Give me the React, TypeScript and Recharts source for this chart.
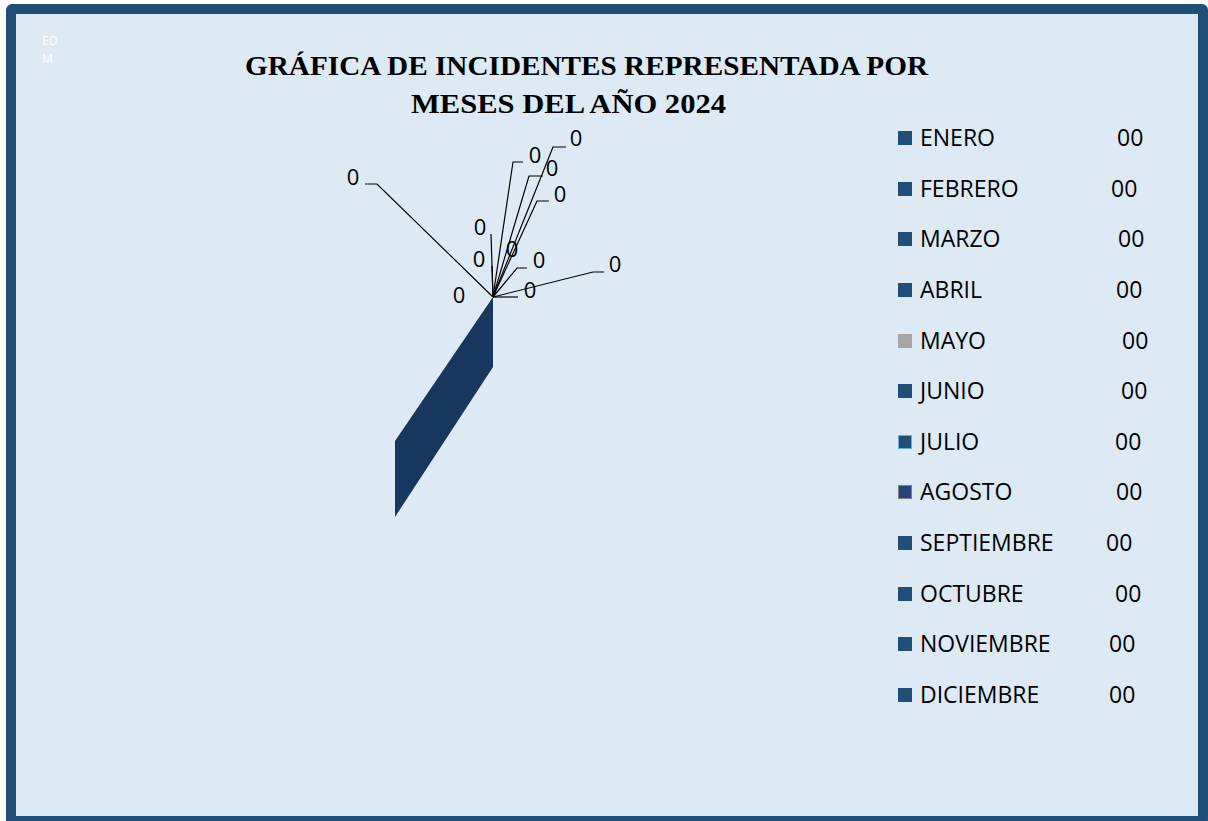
import { PieChart, Pie, Cell, Legend, Customized } from "recharts";

// months and incident counts (all zero in the source sheet)
const MONTHS = [
  "ENERO",
  "FEBRERO",
  "MARZO",
  "ABRIL",
  "MAYO",
  "JUNIO",
  "JULIO",
  "AGOSTO",
  "SEPTIEMBRE",
  "OCTUBRE",
  "NOVIEMBRE",
  "DICIEMBRE",
];
const INCIDENTS = [0, 0, 0, 0, 0, 0, 0, 0, 0, 0, 0, 0];

const TITLE_LINES = ["GRÁFICA DE INCIDENTES REPRESENTADA POR", "MESES DEL AÑO 2024"];

const SLICE_COLORS = [
  "#1F4E79",
  "#1F4E79",
  "#1F4E79",
  "#1F4E79",
  "#A5A5A5",
  "#1F4E79",
  "#1F4E79",
  "#264478",
  "#1F4E79",
  "#1F4E79",
  "#1F4E79",
  "#1F4E79",
];
const MARKER_BORDERS = [
  null,
  null,
  null,
  null,
  null,
  null,
  "#6FA8DC",
  "#808080",
  null,
  null,
  null,
  null,
];

const CX = 493;
const CY = 297;

// where Excel left each data label + its leader line (offsets from pie centre)
const LEADERS: { pts: [number, number][]; label: [number, number] }[] = [
  { pts: [[-116, -113], [-128, -113]], label: [-140, -121] },
  { pts: [[20, -135], [30, -135]], label: [42, -143] },
  { pts: [[60, -150], [73, -150]], label: [83, -160] },
  { pts: [[36, -121], [50, -121]], label: [59, -130] },
  { pts: [[44, -96], [56, -96]], label: [67, -104] },
  { pts: [[-2, -63]], label: [-13, -71] },
  { pts: [[-1, -31]], label: [-14, -39] },
  { pts: [], label: [19, -49] },
  { pts: [[24, -29], [34, -29]], label: [46, -38] },
  { pts: [[100, -25], [111, -25]], label: [122, -34] },
  { pts: [[25, 0]], label: [37, -8] },
  { pts: [], label: [-34, -3] },
];

const LEGEND_VALUE_X = [219, 213, 220, 218, 224, 223, 217, 218, 208, 217, 211, 211];

const data = MONTHS.map((month, i) => ({ month, incidents: INCIDENTS[i] }));

const fmt = (v: number) => String(v).padStart(2, "0");

function PieDecor() {
  return (
    <g>
      {/* side wall of the 3D pie */}
      <polygon
        points={`${CX},${CY} ${CX},${CY + 70} ${CX - 98},${CY + 220} ${CX - 98},${CY + 144}`}
        fill="#17375E"
      />
      <text x={42} y={45} fill="#FFFFFF" fontSize={12} fontFamily="Open Sans">
        ED
      </text>
      <text x={42} y={63} fill="#FFFFFF" fontSize={12} fontFamily="Open Sans">
        M
      </text>
      {TITLE_LINES.map((line, i) => (
        <text
          key={line}
          x={i === 0 ? 245 : 411}
          y={i === 0 ? 75 : 113}
          fontFamily="Liberation Serif"
          fontWeight="bold"
          fontSize={28}
          fill="#000"
          textLength={i === 0 ? 683 : 315}
          lengthAdjust="spacingAndGlyphs"
        >
          {line}
        </text>
      ))}
      {LEADERS.map((ld, i) => (
        <g key={MONTHS[i]}>
          {ld.pts.length > 0 && (
            <polyline
              points={[[0, 0], ...ld.pts].map(([x, y]) => `${CX + x},${CY + y}`).join(" ")}
              fill="none"
              stroke="#000"
              strokeWidth={1.2}
            />
          )}
          <text
            x={CX + ld.label[0]}
            y={CY + ld.label[1]}
            textAnchor="middle"
            dominantBaseline="central"
            fontFamily="Open Sans"
            fontSize={22}
            fill="#000"
          >
            {INCIDENTS[i]}
          </text>
        </g>
      ))}
    </g>
  );
}

function MonthLegend(props: any) {
  const payload = props.payload ?? [];
  return (
    <div style={{ position: "relative", width: 290, height: 600 }}>
      {MONTHS.map((month, i) => {
        const entry = payload.find((p: any) => p.value === month);
        return (
          <div
            key={month}
            style={{
              position: "absolute",
              left: 0,
              top: i * 50.64,
              height: 30,
              width: 290,
              lineHeight: "30px",
              fontFamily: "Open Sans",
              fontSize: 23,
              color: "#000",
            }}
          >
            <span
              style={{
                position: "absolute",
                left: 0,
                top: 8,
                width: 14,
                height: 14,
                boxSizing: "border-box",
                background: entry?.color ?? SLICE_COLORS[i],
                border: MARKER_BORDERS[i] ? `1.5px solid ${MARKER_BORDERS[i]}` : "none",
              }}
            />
            <span style={{ position: "absolute", left: 22, top: -1 }}>{month}</span>
            <span style={{ position: "absolute", left: LEGEND_VALUE_X[i], top: -1 }}>
              {fmt(INCIDENTS[i])}
            </span>
          </div>
        );
      })}
    </div>
  );
}

export default function App() {
  return (
    <div
      style={{
        position: "absolute",
        left: 0,
        top: 0,
        width: 1208,
        height: 821,
        overflow: "hidden",
        background: "#FFFFFF",
      }}
    >
      <div
        style={{
          position: "absolute",
          left: 6,
          top: 4,
          width: 1182,
          height: 802,
          border: "10px solid #1F4E79",
          borderRadius: 6,
          background: "#DDEAF6",
        }}
      />
      <div style={{ position: "absolute", left: 0, top: 0 }}>
        <PieChart width={1208} height={821} margin={{ top: 0, right: 0, bottom: 0, left: 0 }}>
          <Pie
            data={data}
            dataKey="incidents"
            nameKey="month"
            cx={CX}
            cy={CY}
            outerRadius={120}
            isAnimationActive={false}
          >
            {data.map((entry, i) => (
              <Cell key={`cell-${entry.month}`} fill={SLICE_COLORS[i]} />
            ))}
          </Pie>
          <Legend
            layout="vertical"
            verticalAlign="top"
            align="right"
            content={<MonthLegend />}
            wrapperStyle={{ left: 898, top: 123, width: 290 }}
          />
          <Customized component={<PieDecor />} />
        </PieChart>
      </div>
    </div>
  );
}
